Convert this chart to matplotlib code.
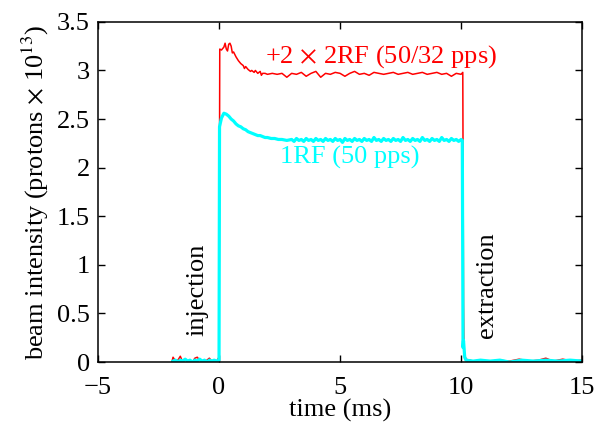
import matplotlib
matplotlib.use("Agg")
import matplotlib.pyplot as plt
import matplotlib.ticker as mtick

# 2RF trace (red)
red_t = [-1.95, -1.9, -1.8, -1.7, -1.6, -1.5, -1.4, -1.3, -1.2, -1.1, -1.0, -0.9,
         -0.8, -0.7, -0.6, -0.5, -0.4, -0.3, -0.2, -0.1, 0.0,
         0.03, 0.1, 0.2, 0.25, 0.3, 0.35, 0.4, 0.45, 0.5, 0.55, 0.6, 0.7, 0.75,
         0.8, 0.9, 1.0, 1.05, 1.1, 1.2, 1.3, 1.35, 1.45, 1.5, 1.6, 1.7, 1.75,
         1.8, 1.9, 2.0,
         2.2, 2.4, 2.6, 2.8, 3.0, 3.2, 3.4, 3.6, 3.8, 4.0, 4.2, 4.4, 4.6, 4.8,
         5.0, 5.2, 5.4, 5.6, 5.8, 6.0, 6.2, 6.4, 6.6, 6.8, 7.0, 7.2, 7.4, 7.6,
         7.8, 8.0, 8.2, 8.4, 8.6, 8.8, 9.0, 9.2, 9.4, 9.6, 9.8, 10.0,
         10.07, 10.1, 10.12, 10.2, 10.5, 10.8, 11.1, 11.5, 12.0, 12.4, 12.8,
         13.2, 13.5, 13.8, 14.2, 14.6, 15.0]
red_v = [0.00, 0.05, 0.01, 0.02, 0.06, 0.00, 0.03, 0.01, 0.02, 0.00, 0.04, 0.05,
         0.02, 0.01, 0.01, 0.02, 0.04, 0.01, 0.02, 0.01, 0.05,
         3.22, 3.21, 3.24, 3.28, 3.22, 3.20, 3.27, 3.28, 3.25, 3.18, 3.19, 3.14, 3.12,
         3.10, 3.07, 3.05, 3.02, 3.04, 3.01, 2.99, 3.00, 2.98, 3.00, 2.97, 2.99, 2.95,
         2.97, 2.97, 2.96,
         2.97, 2.96, 2.97, 2.93, 2.97, 2.96, 2.98, 2.94, 2.97, 2.99, 2.93, 2.97, 2.96, 2.98,
         2.97, 2.94, 2.97, 2.99, 2.96, 2.97, 2.95, 2.98, 2.97, 2.96, 2.97, 2.98, 2.96, 2.97,
         2.98, 2.96, 2.97, 2.98, 2.96, 2.97, 2.98, 2.96, 2.97, 2.94, 2.97, 2.96,
         2.98, 0.60, 0.10, 0.03, 0.01, 0.02, 0.00, 0.02, 0.01, 0.03, 0.01,
         0.02, 0.04, 0.01, 0.03, 0.01, 0.02]

# 1RF trace (cyan)
cyan_t = [-1.9, -1.8, -1.7, -1.6, -1.5, -1.4, -1.3, -1.2, -1.1, -1.0, -0.9, -0.8,
          -0.7, -0.6, -0.5, -0.4, -0.3, -0.2, -0.1, 0.0,
          0.02, 0.1, 0.2, 0.3, 0.4, 0.5, 0.6, 0.7, 0.8, 0.9, 1.0, 1.1, 1.2, 1.3,
          1.4, 1.5, 1.6, 1.7, 1.8, 1.9, 2.0, 2.15, 2.3, 2.45, 2.6, 2.8,
          3.0, 3.1, 3.2, 3.3, 3.4, 3.5, 3.6, 3.7, 3.8, 3.9, 4.0, 4.1, 4.2, 4.3,
          4.4, 4.5, 4.6, 4.7, 4.8, 4.9, 5.0, 5.1, 5.2, 5.3, 5.4, 5.5, 5.6, 5.7,
          5.8, 5.9, 6.0, 6.1, 6.2, 6.3, 6.4, 6.5, 6.6, 6.7, 6.8, 6.9, 7.0, 7.1,
          7.2, 7.3, 7.4, 7.5, 7.6, 7.7, 7.8, 7.9, 8.0, 8.1, 8.2, 8.3, 8.4, 8.5,
          8.6, 8.7, 8.8, 8.9, 9.0, 9.1, 9.2, 9.3, 9.4, 9.5, 9.6, 9.7, 9.8, 9.9,
          10.0,
          10.05, 10.08, 10.1, 10.15, 10.2, 10.5, 10.8, 11.2, 11.6, 12.0, 12.5,
          13.0, 13.5, 14.0, 14.5, 15.0]
cyan_v = [0.01, 0.02, 0.00, 0.02, 0.01, 0.03, 0.01, 0.02, 0.00, 0.02, 0.01, 0.03,
          0.01, 0.02, 0.00, 0.02, 0.01, 0.02, 0.01, 0.02,
          2.42, 2.51, 2.56, 2.55, 2.53, 2.50, 2.48, 2.45, 2.43, 2.42, 2.40, 2.39, 2.37, 2.36,
          2.35, 2.34, 2.33, 2.33, 2.32, 2.31, 2.31, 2.30, 2.30, 2.29, 2.29, 2.28,
          2.29, 2.27, 2.30, 2.28, 2.29, 2.27, 2.30, 2.28, 2.29, 2.27, 2.30, 2.28, 2.29, 2.27,
          2.30, 2.28, 2.29, 2.27, 2.30, 2.28, 2.29, 2.26, 2.30, 2.28, 2.29, 2.27, 2.30, 2.28,
          2.29, 2.27, 2.30, 2.28, 2.29, 2.27, 2.31, 2.28, 2.29, 2.27, 2.30, 2.28, 2.29, 2.27,
          2.30, 2.28, 2.29, 2.27, 2.31, 2.28, 2.29, 2.27, 2.30, 2.28, 2.29, 2.27, 2.31, 2.28,
          2.29, 2.27, 2.30, 2.28, 2.29, 2.27, 2.31, 2.28, 2.29, 2.27, 2.30, 2.28, 2.29, 2.27,
          2.29,
          2.28, 0.15, 0.22, 0.05, 0.02, 0.01, 0.02, 0.01, 0.02, 0.00, 0.02,
          0.01, 0.02, 0.01, 0.02, 0.01]

y_ticks = [0, 0.5, 1, 1.5, 2, 2.5, 3, 3.5]
x_ticks = [-5, 0, 5, 10, 15]

plt.rcParams["font.family"] = ["Liberation Serif", "DejaVu Serif"]
plt.rcParams["mathtext.fontset"] = "stix"
plt.rcParams["font.size"] = 19

fig = plt.figure(figsize=(5.94, 4.28), dpi=100)
ax = fig.add_axes([0.165, 0.154, 0.815, 0.795])

ax.plot(red_t, red_v, color="#ff0000", lw=1.1)
ax.plot(cyan_t, cyan_v, color="#00ffff", lw=2.3)

ax.set_xlim(-5, 15)
ax.set_ylim(0, 3.5)
ax.set_xticks(x_ticks)
ax.set_yticks(y_ticks)
ax.yaxis.set_major_formatter(mtick.FormatStrFormatter("%g"))
ax.tick_params(direction="in", top=True, right=True, length=5, width=1)
ax.tick_params(axis="x", pad=11)
ax.tick_params(axis="y", pad=6)
for s in ax.spines.values():
    s.set_linewidth(1.1)

ax.set_xlabel("time (ms)", labelpad=0)
ax.set_ylabel(r"beam intensity (protons $\times$ 10$^{13}$)", labelpad=4)

ax.text(6.7, 3.14, r"+2 $\times$ 2RF (50/32 pps)", color="#ff0000",
        ha="center", va="center")
ax.text(5.4, 2.10, "1RF (50 pps)", color="#00ffff", ha="center", va="center")
ax.text(-0.9, 0.74, "injection", rotation=90, ha="center", va="center")
ax.text(11.07, 0.79, "extraction", rotation=90, ha="center", va="center")

fig.savefig("out.png", dpi=100)
